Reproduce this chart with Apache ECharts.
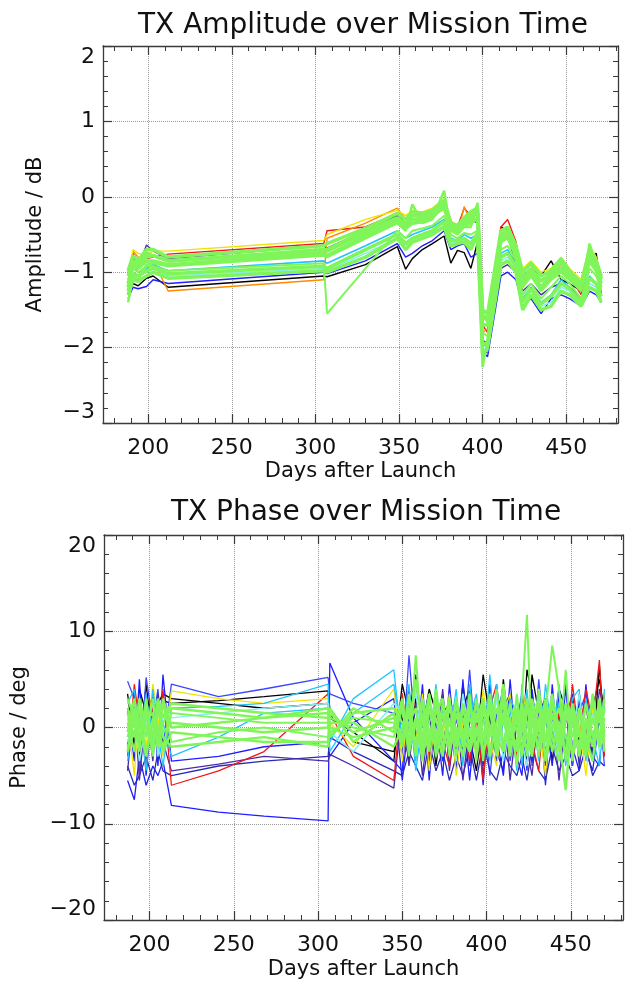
<!DOCTYPE html>
<html><head><meta charset="utf-8">
<script src="https://cdn.jsdelivr.net/npm/echarts@6/dist/echarts.min.js"></script>
<style>html,body{margin:0;padding:0;background:#fff}#c{width:626px;height:984px}</style>
</head><body><div id="c"></div>
<script>
// ---------- tick labels ----------
const X_MAJOR = [200, 250, 300, 350, 400, 450];
const X_MINOR = [180, 190, 210, 220, 230, 240, 260, 270, 280, 290, 310, 320, 330, 340, 360, 370, 380, 390, 410, 420, 430, 440, 460, 470, 480];
const AMP_TICKS = [-3, -2, -1, 0, 1, 2];
const PHASE_TICKS = [-20, -10, 0, 10, 20];

// ---------- amplitude (dB) ----------
const AMP_DAYS = [188, 191, 194, 199, 203, 212,  305, 307, 330, 349,
  354, 358, 364, 370, 377, 381, 385, 389, 393, 397,
  400, 403, 411, 415, 420, 424, 429, 435,
  441, 447, 452, 459, 464, 468, 471];
const AMP_BLACK = [-1.30, -1.15, -1.18, -1.08, -1.05, -1.20,  -1.05, -1.06, -0.90, -0.66,
  -0.96, -0.82, -0.70, -0.62, -0.52, -0.88, -0.71, -0.74, -0.95, -0.60,
  -2.10, -2.05, -0.40, -0.45, -0.95, -1.05, -0.95, -1.05,
  -0.85, -1.10, -1.15, -1.25, -0.80, -0.75, -1.30];
const AMP_BLUE = [-1.35, -1.20, -1.22, -1.19, -1.10, -1.15,  -1.00, -1.02, -0.85, -0.62,
  -0.80, -0.75, -0.65, -0.58, -0.45, -0.70, -0.65, -0.62, -0.80, -0.75,
  -2.05, -2.12, -1.05, -1.00, -1.10, -1.45, -1.35, -1.55,
  -1.35, -1.30, -1.35, -1.45, -1.25, -1.30, -1.40];
const AMP_PURPLE = [-1.00, -0.80, -0.95, -0.64, -0.72, -0.82,  -0.65, -0.68, -0.45, -0.25,
  -0.40, -0.30, -0.28, -0.25, -0.12, -0.40, -0.45, -0.38, -0.30, -0.35,
  -1.90, -1.95, -0.95, -0.90, -1.00, -1.25, -1.15, -1.30,
  -1.20, -1.15, -1.20, -1.35, -1.10, -1.15, -1.25];
const AMP_RED = [-1.05, -0.75, -0.85, -0.82, -0.80, -0.76,  -0.62, -0.45, -0.40, -0.22,
  -0.35, -0.20, -0.25, -0.20, -0.05, -0.35, -0.40, -0.15, -0.25, -0.20,
  -1.70, -1.80, -0.40, -0.30, -0.60, -1.10, -1.00, -1.10,
  -1.05, -0.90, -1.05, -1.30, -0.85, -0.95, -1.20];
const AMP_ORANGE = [-1.10, -0.72, -0.80, -0.85, -0.85, -1.25,  -1.10, -0.55, -0.35, -0.15,
  -0.30, -0.25, -0.22, -0.18, -0.08, -0.30, -0.50, -0.13, -0.35, -0.30,
  -1.80, -1.75, -0.45, -0.40, -0.65, -1.00, -0.90, -1.20,
  -1.00, -0.85, -1.00, -1.20, -0.70, -0.85, -1.15];
const AMP_YELLOW = [-1.00, -0.70, -0.75, -0.78, -0.72, -0.72,  -0.58, -0.50, -0.30, -0.18,
  -0.25, -0.18, -0.20, -0.15, -0.02, -0.32, -0.38, -0.30, -0.20, -0.25,
  -1.60, -1.65, -0.50, -0.45, -0.70, -0.95, -0.85, -1.00,
  -0.95, -0.80, -0.95, -1.10, -0.65, -0.80, -1.05];
const AMP_CYAN = [-1.20, -0.90, -1.00, -0.95, -0.90, -0.98,  -0.85, -0.88, -0.65, -0.45,
  -0.55, -0.50, -0.45, -0.40, -0.30, -0.55, -0.58, -0.50, -0.55, -0.50,
  -1.95, -2.00, -0.75, -0.70, -0.90, -1.35, -1.20, -1.40,
  -1.30, -1.10, -1.20, -1.40, -1.05, -1.15, -1.30];
const AMP_LCYAN = [-1.25, -1.00, -1.05, -1.00, -0.95, -1.05,  -0.95, -0.98, -0.75, -0.55,
  -0.65, -0.60, -0.52, -0.48, -0.38, -0.62, -0.60, -0.55, -0.65, -0.55,
  -2.00, -2.05, -0.85, -0.80, -0.95, -1.40, -1.25, -1.45,
  -1.40, -1.20, -1.25, -1.45, -1.15, -1.20, -1.35];
const AMP_GREEN1 = [-1.40, -1.05, -1.10, -0.90, -0.88, -0.92,  -0.78, -0.80, -0.55, -0.35,
  -0.45, -0.10, -0.35, -0.30, 0.08, -0.45, -0.50, -0.40, -0.40, -0.08,
  -2.26, -1.90, -0.60, -0.55, -0.80, -1.20, -1.05, -1.25,
  -1.10, -1.00, -1.10, -1.25, -0.62, -0.90, -1.20];
const AMP_GREEN2 = [-1.20, -0.85, -0.90, -0.80, -0.78, -0.85,  -0.70, -0.72, -0.48, -0.30,
  -0.38, -0.30, -0.30, -0.25, -0.15, -0.40, -0.45, -0.35, -0.30, -0.20,
  -1.60, -1.60, -0.55, -0.50, -0.75, -1.15, -1.00, -1.20,
  -1.05, -0.95, -1.05, -1.20, -0.80, -0.95, -1.10];
const AMP_GREEN3 = [-1.10, -0.95, -1.00, -0.92, -0.92, -0.98,  -0.88, -1.55, -0.95, -0.45,
  -0.55, -0.45, -0.42, -0.38, -0.25, -0.50, -0.55, -0.48, -0.50, -0.45,
  -1.80, -1.85, -0.70, -0.65, -0.85, -1.30, -1.15, -1.35,
  -1.20, -1.05, -1.15, -1.35, -0.95, -1.05, -1.25];
const AMP_GREEN4 = [-1.30, -1.10, -1.12, -1.05, -1.00, -1.08,  -0.98, -1.00, -0.80, -0.55,
  -0.70, -0.60, -0.55, -0.50, -0.40, -0.65, -0.62, -0.60, -0.70, -0.50,
  -2.10, -2.00, -0.90, -0.85, -1.00, -1.50, -1.30, -1.50,
  -1.45, -1.25, -1.30, -1.45, -1.20, -1.25, -1.40];
const AMP_GREEN5 = [-0.98, -0.78, -0.85, -0.70, -0.70, -0.80,  -0.65, -0.62, -0.42, -0.22,
  -0.30, -0.20, -0.22, -0.18, -0.05, -0.35, -0.38, -0.28, -0.20, -0.15,
  -1.50, -1.55, -0.45, -0.40, -0.65, -1.00, -0.88, -1.05,
  -0.98, -0.82, -0.98, -1.15, -0.70, -0.85, -1.05];
const AMP_GREEN6 = [-1.15, -0.92, -0.95, -0.85, -0.85, -0.90,  -0.75, -0.78, -0.52, -0.32,
  -0.42, -0.35, -0.33, -0.28, -0.10, -0.42, -0.48, -0.38, -0.35, -0.28,
  -1.70, -1.70, -0.58, -0.52, -0.78, -1.18, -1.02, -1.22,
  -1.08, -0.98, -1.08, -1.22, -0.85, -0.98, -1.15];
const AMP_GREEN7 = [-1.25, -1.02, -1.05, -0.98, -0.95, -1.02,  -0.92, -0.95, -0.70, -0.50,
  -0.62, -0.55, -0.50, -0.45, -0.33, -0.58, -0.58, -0.55, -0.62, -0.48,
  -1.95, -1.95, -0.80, -0.75, -0.92, -1.40, -1.22, -1.42,
  -1.32, -1.15, -1.22, -1.40, -1.08, -1.15, -1.32];
const AMP_GREEN8 = [-1.05, -0.88, -0.92, -0.75, -0.78, -0.85,  -0.72, -0.70, -0.45, -0.28,
  -0.35, -0.25, -0.26, -0.22, -0.08, -0.38, -0.42, -0.32, -0.26, -0.18,
  -1.55, -1.65, -0.50, -0.45, -0.70, -1.08, -0.95, -1.12,
  -1.02, -0.88, -1.02, -1.18, -0.75, -0.90, -1.08];

// ---------- phase (deg) ----------
const PH_DAYS = [187, 191, 194, 198, 202, 205, 208, 213,
  241, 268, 306, 307, 321, 345,
  350, 354, 358, 362, 366, 370, 374, 378, 382,
  386, 390, 394, 398, 402, 406, 410, 414, 418,
  421, 424, 427, 431, 435, 439, 443, 447, 451,
  455, 459, 463, 467, 470];
const PH_BLACK = [3.5, -2.0, 4.0, 1.5, 3.2, -1.0, 2.8, 2.5,
  2.8, 3.2, 3.8, 2.0, -1.5, -2.5,
  1.0, -3.5, 3.0, -1.5, 2.0, -4.0, 1.5, 2.5, -2.0,
  4.5, -1.0, -4.5, 1.0, 3.0, -2.5, 5.0, -1.5, 2.0,
  -3.0, 6.0, 3.5, -1.0, 2.0, -3.5, 1.5, -2.0, 3.0,
  -1.5, 2.5, -3.0, 6.5, -1.0];
const PH_BLACK2 = [-2.0, 3.5, -3.0, 4.5, -1.5, 2.5, 3.5, 3.0,
  2.5, 2.0, 2.5, 1.0, -0.5, -3.5,
  4.5, 1.5, 5.5, 0.0, 4.0, 1.5, -2.5, 3.0, -3.5,
  2.0, 4.0, -2.0, 5.5, 1.0, -3.0, 2.0, 3.5, -4.0,
  2.5, -3.5, 5.5, 1.5, 3.0, -1.0, 4.0, 2.0, -4.0,
  3.5, -1.0, 2.0, 5.0, 1.5];
const PH_BLUE = [-5.5, -7.5, -3.0, -6.0, -4.0, -5.0, -3.5, -8.1,
  -8.8, -9.2, -9.7, 6.7, 1.0, -3.5,
  -4.5, 4.0, -2.0, 3.0, -4.5, 1.0, -5.0, 4.5, -2.5,
  1.5, -5.5, 2.0, -4.0, 4.5, -1.0, -5.0, 3.0, -3.5,
  2.0, -4.5, 4.0, -2.0, 1.0, -4.0, 3.5, -1.5, -3.5,
  3.0, -2.5, -4.5, 1.0, -3.0];
const PH_BLUE2 = [4.8, 3.0, -4.5, 5.2, 0.5, 4.0, -2.0, 4.5,
  3.2, 4.0, 5.2, 3.5, 2.5, 1.5,
  -3.0, 7.5, -1.0, 2.0, -3.5, 0.5, 3.5, -4.0, 1.0,
  -2.5, 6.0, -3.0, 2.5, -5.0, 1.5, 4.0, -3.5, 0.5,
  -2.0, 3.0, -4.0, 5.0, -2.5, 1.0, -1.5, 4.5, -4.0,
  1.5, 3.5, -2.0, 2.0, -4.0];
const PH_BLUE3 = [2.0, -3.5, 5.0, -5.0, 3.0, -4.0, 5.5, -3.5,
  -3.0, -2.0, -1.5, -3.0, 0.5, 3.0,
  -5.5, 1.0, -3.0, 4.5, -5.5, 3.5, -3.5, 1.5, -4.5,
  5.0, -4.0, 2.0, -6.0, 3.5, -2.5, -4.5, 5.0, -3.0,
  -5.0, 1.5, -3.5, 4.0, -6.0, 4.5, -3.0, 4.0, -2.0,
  -4.5, 4.5, -3.0, -4.0, 3.5];
const PH_NAVY = [-4.0, -6.0, -5.0, -3.0, -5.5, -2.5, -4.5, -5.0,
  -4.0, -3.5, -3.0, -1.0, -2.5, -4.5,
  -5.0, -2.5, -4.0, -5.5, -1.5, -4.5, -2.5, -5.5, -3.0,
  -5.0, -2.0, -5.5, -1.5, -4.5, -5.5, -2.5, -4.0, -5.0,
  -3.0, -5.5, -2.0, -4.5, -5.5, -2.0, -4.5, -3.0, -5.0,
  -4.5, -2.0, -5.0, -3.5, -4.0];
const PH_PURPLE = [-4.5, 2.5, -5.5, 2.0, -3.5, 3.5, -1.5, -4.5,
  -3.8, -3.0, -3.5, -2.8, -4.0, -6.3,
  2.0, -4.0, 2.5, -5.0, 1.0, -3.0, 4.0, -4.5, 2.0,
  -5.5, 0.5, 3.0, -5.0, 1.5, -3.5, 2.5, -5.5, 0.5,
  3.5, -2.0, -5.0, 2.0, -4.0, 2.5, -5.5, 1.0, 3.5,
  -4.0, 0.5, -3.5, 4.0, 1.5];
const PH_RED = [-3.0, 4.5, 0.5, -4.0, 2.0, -2.5, 4.0, -6.0,
  -4.5, -2.5, 3.5, 1.5, -3.0, -5.5,
  3.5, -2.0, 4.0, 1.0, -3.0, 3.0, -1.5, -4.0, 2.5,
  0.5, -3.5, 1.0, -5.5, 2.0, 4.5, -2.0, 1.5, -3.0,
  0.5, 2.5, -1.5, -4.5, 3.0, -2.0, 1.5, -3.5, 4.5,
  -1.0, 4.0, 0.5, 7.0, -3.0];
const PH_YELLOW = [1.0, -5.0, 3.0, -2.0, 4.5, 1.0, -3.0, 3.8,
  3.0, 2.5, 3.0, 0.5, -2.0, 4.0,
  -3.5, 2.5, -1.5, 3.5, -4.5, 2.0, -1.0, 3.5, -5.0,
  0.5, 2.5, -3.0, 4.0, -1.5, -4.0, 1.5, 3.5, -4.5,
  1.0, 4.0, -3.0, 0.5, -5.0, 3.0, -1.0, 2.5, -3.5,
  0.5, -5.0, 2.0, -1.0, 3.5];
const PH_CYAN = [2.5, 4.0, -2.0, 3.5, -1.5, 2.0, 0.5, -3.0,
  -1.0, 1.5, 2.0, -1.5, 3.0, 6.0,
  -2.0, 3.0, -4.5, 0.5, 3.5, -2.5, 2.0, -1.0, 4.0,
  -3.5, 1.0, 3.5, -2.0, 5.5, -3.0, 0.5, 2.0, -4.5,
  4.5, -1.5, 2.0, -3.5, 4.5, -0.5, 2.5, -4.0, 1.5,
  -2.5, 3.0, -1.0, -4.0, 2.5];
const PH_CYAN2 = [-3.5, 2.0, 1.5, -4.5, 4.0, -0.5, -4.0, 2.0,
  2.2, 2.5, 4.5, -2.5, 1.5, 4.5,
  -1.0, 4.5, -3.5, 2.5, -2.0, 4.5, -3.0, 2.0, 2.5,
  -4.0, 4.5, -1.0, 3.0, -3.5, 4.5, -2.0, 3.0, 1.5,
  -4.0, 4.0, -2.5, 3.5, 1.0, -2.5, 4.5, -2.0, 3.0,
  4.0, -3.5, 3.5, -2.0, 4.0];
const PH_LCYAN = [-1.5, 1.0, -3.5, 0.5, 2.5, -3.0, 1.5, 1.0,
  1.5, 2.0, 2.5, -0.5, -2.5, 2.5,
  1.5, -1.0, 4.0, -3.0, 0.5, 2.5, -2.0, 1.0, -3.5,
  3.5, -0.5, -2.0, 1.5, -1.0, 3.0, -3.5, 1.0, 2.5,
  -1.5, -4.0, 1.5, 3.0, -2.0, 0.5, -3.0, 2.0, -1.0,
  3.5, -2.0, 1.5, -2.5, 0.0];
const PH_GREEN1 = [0.5, -2.5, 2.0, -1.0, 3.0, 0.0, -2.0, 1.5,
  1.0, 0.5, 0.5, 1.0, 0.0, -1.0,
  2.0, -3.0, 7.5, -2.0, 3.0, -1.5, 2.5, -3.0, 1.5,
  -2.0, 3.5, -3.5, 2.0, -1.0, 4.0, -2.5, 1.0, -4.0,
  3.0, 11.7, -2.0, 2.5, -3.0, 1.5, -2.5, 6.0, -3.5,
  2.0, -1.5, 3.0, -2.0, 1.0];
const PH_GREEN2 = [-1.0, 2.0, -2.5, 3.0, -2.0, 1.5, 2.5, -1.5,
  -0.5, 0.0, -1.0, -0.5, 1.0, 0.5,
  -2.0, 3.5, -3.0, 2.5, -1.5, 3.0, -2.5, 1.0, -3.0,
  2.0, -1.0, 2.5, -3.5, 3.0, -2.0, 1.0, -2.5, 3.5,
  -1.0, -2.5, 2.0, -3.0, 1.5, 8.5, 4.0, -3.5, 2.0,
  -2.5, 1.0, -2.0, 2.5, -1.5];
const PH_GREEN3 = [2.0, 0.0, 1.0, -2.5, 0.5, -1.5, 3.0, 0.0,
  0.5, 1.0, 1.5, 0.0, -1.0, 0.0,
  2.5, -1.5, 1.0, -3.5, 2.0, -0.5, -3.0, 2.5, -0.5,
  -3.0, 2.0, 0.5, 3.0, -3.0, 0.5, 2.5, -2.0, 1.0,
  -3.0, 2.0, 0.5, -2.0, 3.0, -1.0, -3.5, 1.0, 0.5,
  -2.0, 2.5, -1.0, 1.5, -2.5];
const PH_GREEN4 = [-2.5, 1.5, -1.0, 2.0, -3.0, 2.5, -1.0, -2.0,
  -1.5, -1.0, -2.0, 0.5, 0.5, -2.0,
  0.0, 2.0, -2.0, 1.5, -2.5, 4.0, -1.0, -2.0, 3.0,
  -1.0, -2.5, 1.5, -1.0, 2.0, -3.0, 3.5, -1.0, -1.5,
  2.0, -1.0, -3.0, 4.0, -1.5, 2.5, -1.0, -6.5, 1.5,
  -3.0, 0.5, -2.0, 3.0, -0.5];
const PH_GREEN5 = [1.5, -1.0, 3.0, 0.0, -2.0, 2.0, -0.5, 0.5,
  0.0, -0.5, 0.0, 1.5, -0.5, 1.0,
  -1.0, 1.5, -2.5, 3.0, -0.5, -2.0, 1.5, -1.5, 2.5,
  -1.5, 3.0, -2.0, 0.5, 2.5, -2.5, 1.5, -3.0, 2.0,
  -0.5, 3.0, -2.5, 1.0, -1.5, 3.5, -2.0, 2.5, -1.0,
  1.5, -2.5, 3.5, -1.5, 2.0];
const PH_GREEN6 = [-0.5, 3.0, -1.5, 1.0, 1.5, -2.0, 0.5, 2.0,
  1.5, 1.0, 2.0, -1.0, 2.0, -0.5,
  3.0, -2.5, 0.5, -1.0, 3.5, -3.0, 0.0, 3.0, -2.0,
  2.5, -2.5, 0.0, -1.5, 3.5, -1.0, -2.5, 2.5, -0.5,
  1.5, -3.0, 3.0, -0.5, 2.0, -2.5, 0.5, -3.0, 2.5,
  -0.5, -3.0, 1.0, -1.5, 3.0];
const PH_GREEN7 = [-2.0, -0.5, 0.5, -3.0, 1.0, -0.5, -2.5, -0.5,
  -1.0, -1.5, -1.5, 2.0, -1.5, 1.5,
  -1.5, 0.5, 2.0, -2.5, -1.0, 1.0, -2.0, 0.5, -1.0,
  1.0, -2.0, 3.0, -2.5, -0.5, 2.0, -1.5, 0.5, -2.5,
  2.5, 0.5, -1.5, 2.5, -3.5, 0.0, 2.0, -1.0, -2.5,
  2.0, -1.0, -3.5, 2.0, -1.0];
const PH_GREEN8 = [3.0, 1.0, -1.0, 1.5, -1.0, 3.0, 1.0, 2.5,
  2.0, 1.5, 1.0, -1.0, 1.5, 2.0,
  0.5, -0.5, 5.0, 0.5, -2.0, 1.5, 3.0, -2.0, 0.0,
  -0.5, 1.0, -1.0, 2.5, 0.0, -1.5, 4.5, -1.0, 1.5,
  0.0, 2.5, 1.0, -1.0, 0.5, 3.0, 0.0, 1.0, 2.0,
  -1.0, 0.0, 2.5, 0.5, 1.0];

// ---------- styling ----------
const FONT = 'DejaVu Sans';
const AX = '#3a3a3a';
const GRID_C = '#9a9a9a';
const COL = {black:'#000000', blue:'#1e1eff', blue2:'#3c46ff', navy:'#2a2ab8', purple:'#4a2aa8', red:'#f01818',
  orange:'#ff8a00', yellow:'#eee400', cyan:'#20c4ff', lcyan:'#86eef2', green:'#80f55a'};

function minus(v) { return String(v).replace('-', '\u2212'); }
function pairs(days, vals) { return days.map((d, i) => [d, vals[i]]); }
function line(days, vals, color, width, xi, yi) {
  return {type:'line', xAxisIndex:xi, yAxisIndex:yi, data:pairs(days, vals), symbol:'none',
    showSymbol:false, silent:true, animation:false, lineStyle:{color:color, width:width}};
}

const grids = [
  {left:103, top:46, width:515, height:377},
  {left:104, top:535, width:519, height:385}
];

function xAxesFor(g, nameGap) {
  const base = {gridIndex:g, type:'value', min:173, max:481};
  const lbl = {fontSize:22, fontFamily:FONT, color:'#111'};
  return [
    Object.assign({}, base, {position:'bottom',
      axisLine:{show:true, onZero:false, lineStyle:{color:AX, width:1.3}},
      axisTick:{show:true, inside:true, length:9, customValues:X_MAJOR, lineStyle:{color:AX, width:1.2}},
      axisLabel:Object.assign({show:true, margin:14, customValues:X_MAJOR}, lbl),
      splitLine:{show:true, lineStyle:{color:GRID_C, type:'dotted', width:1}},
      name:'Days after Launch', nameLocation:'middle', nameGap:nameGap,
      nameTextStyle:{fontSize:21, fontFamily:FONT, color:'#111'}}),
    Object.assign({}, base, {position:'top',
      axisLine:{show:true, onZero:false, lineStyle:{color:AX, width:1.3}},
      axisTick:{show:true, inside:true, length:9, customValues:X_MAJOR, lineStyle:{color:AX, width:1.2}},
      axisLabel:{show:false}, splitLine:{show:false}}),
    Object.assign({}, base, {position:'bottom',
      axisLine:{show:false, onZero:false},
      axisTick:{show:true, inside:true, length:5, customValues:X_MINOR, lineStyle:{color:AX, width:1}},
      axisLabel:{show:false}, splitLine:{show:false}}),
    Object.assign({}, base, {position:'top',
      axisLine:{show:false, onZero:false},
      axisTick:{show:true, inside:true, length:5, customValues:X_MINOR, lineStyle:{color:AX, width:1}},
      axisLabel:{show:false}, splitLine:{show:false}})
  ];
}

function yAxesFor(g, ticks, name, nameGap) {
  const base = {gridIndex:g, type:'value', min:ticks[0], max:ticks[ticks.length-1], interval:ticks[1]-ticks[0]};
  return [
    Object.assign({}, base, {position:'left',
      axisLine:{show:true, onZero:false, lineStyle:{color:AX, width:1.3}},
      axisTick:{show:true, inside:true, length:9, lineStyle:{color:AX, width:1.2}},
      minorTick:{show:true, splitNumber:5, length:5, lineStyle:{color:AX, width:1}},
      axisLabel:{show:true, margin:8, fontSize:22, fontFamily:FONT, color:'#111', formatter:minus,
        verticalAlignMinLabel:'bottom', verticalAlignMaxLabel:'top'},
      splitLine:{show:true, lineStyle:{color:GRID_C, type:'dotted', width:1}},
      name:name, nameLocation:'middle', nameGap:nameGap,
      nameTextStyle:{fontSize:21, fontFamily:FONT, color:'#111'}}),
    Object.assign({}, base, {position:'right',
      axisLine:{show:true, onZero:false, lineStyle:{color:AX, width:1.3}},
      axisTick:{show:true, inside:true, length:9, lineStyle:{color:AX, width:1.2}},
      minorTick:{show:true, splitNumber:5, length:5, lineStyle:{color:AX, width:1}},
      axisLabel:{show:false}, splitLine:{show:false}})
  ];
}

const xAxis = xAxesFor(0, 38).concat(xAxesFor(1, 39));
const yAxis = yAxesFor(0, AMP_TICKS, 'Amplitude / dB', 57).concat(yAxesFor(1, PHASE_TICKS, 'Phase / deg', 74));

const series = [
  line(AMP_DAYS, AMP_BLACK, COL.black, 1.4, 0, 0),
  line(AMP_DAYS, AMP_BLUE, COL.blue, 1.4, 0, 0),
  line(AMP_DAYS, AMP_PURPLE, COL.purple, 1.4, 0, 0),
  line(AMP_DAYS, AMP_RED, COL.red, 1.4, 0, 0),
  line(AMP_DAYS, AMP_ORANGE, COL.orange, 1.4, 0, 0),
  line(AMP_DAYS, AMP_YELLOW, COL.yellow, 1.4, 0, 0),
  line(AMP_DAYS, AMP_CYAN, COL.cyan, 1.6, 0, 0),
  line(AMP_DAYS, AMP_LCYAN, COL.lcyan, 1.6, 0, 0),
  line(AMP_DAYS, AMP_GREEN1, COL.green, 2.5, 0, 0),
  line(AMP_DAYS, AMP_GREEN2, COL.green, 3.5, 0, 0),
  line(AMP_DAYS, AMP_GREEN3, COL.green, 2, 0, 0),
  line(AMP_DAYS, AMP_GREEN4, COL.green, 3.5, 0, 0),
  line(AMP_DAYS, AMP_GREEN5, COL.green, 3.5, 0, 0),
  line(AMP_DAYS, AMP_GREEN6, COL.green, 3.5, 0, 0),
  line(AMP_DAYS, AMP_GREEN7, COL.green, 3.5, 0, 0),
  line(AMP_DAYS, AMP_GREEN8, COL.green, 3.5, 0, 0),

  line(PH_DAYS, PH_BLACK, COL.black, 1.3, 4, 2),
  line(PH_DAYS, PH_BLACK2, COL.black, 1.3, 4, 2),
  line(PH_DAYS, PH_BLUE, COL.blue, 1.3, 4, 2),
  line(PH_DAYS, PH_BLUE2, COL.blue2, 1.3, 4, 2),
  line(PH_DAYS, PH_BLUE3, COL.blue, 1.3, 4, 2),
  line(PH_DAYS, PH_NAVY, COL.navy, 1.3, 4, 2),
  line(PH_DAYS, PH_PURPLE, COL.purple, 1.3, 4, 2),
  line(PH_DAYS, PH_RED, COL.red, 1.3, 4, 2),
  line(PH_DAYS, PH_YELLOW, COL.yellow, 1.3, 4, 2),
  line(PH_DAYS, PH_CYAN, COL.cyan, 1.3, 4, 2),
  line(PH_DAYS, PH_CYAN2, COL.cyan, 1.3, 4, 2),
  line(PH_DAYS, PH_LCYAN, COL.lcyan, 1.5, 4, 2),
  line(PH_DAYS, PH_GREEN1, COL.green, 2, 4, 2),
  line(PH_DAYS, PH_GREEN2, COL.green, 2, 4, 2),
  line(PH_DAYS, PH_GREEN3, COL.green, 2.4, 4, 2),
  line(PH_DAYS, PH_GREEN4, COL.green, 2.4, 4, 2),
  line(PH_DAYS, PH_GREEN5, COL.green, 2.4, 4, 2),
  line(PH_DAYS, PH_GREEN6, COL.green, 2.4, 4, 2),
  line(PH_DAYS, PH_GREEN7, COL.green, 2.4, 4, 2),
  line(PH_DAYS, PH_GREEN8, COL.green, 2.4, 4, 2)
];

const chart = echarts.init(document.getElementById('c'), null, {renderer:'canvas'});
chart.setOption({
  backgroundColor:'#ffffff',
  animation:false,
  grid:grids,
  xAxis:xAxis,
  yAxis:yAxis,
  series:series,
  graphic:[
    {type:'text', x:363, y:26, silent:true,
      style:{text:'TX Amplitude over Mission Time', fontSize:28, fontFamily:FONT, fill:'#111',
        align:'center', verticalAlign:'middle'}},
    {type:'text', x:366, y:513, silent:true,
      style:{text:'TX Phase over Mission Time', fontSize:28, fontFamily:FONT, fill:'#111',
        align:'center', verticalAlign:'middle'}}
  ]
});
</script></body></html>
